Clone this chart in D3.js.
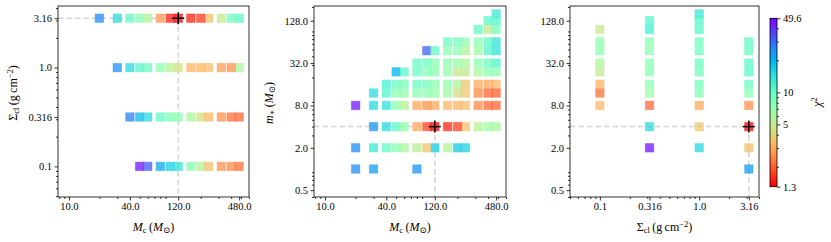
<!DOCTYPE html>
<html>
<head>
<meta charset="utf-8">
<script src="https://cdn.jsdelivr.net/npm/d3@7"></script>
<style>
  body { margin: 0; background: #fff; }
  svg text { font-family: "Liberation Serif", "DejaVu Serif", serif; fill: #000; }
</style>
</head>
<body>
<div id="chart"></div>
<script>
// tick labels
var mcTicks = [10, 40, 120, 480];
var sigmaTicks = [0.1, 0.316, 1.0, 3.16];
var mstarTicks = [0.5, 2, 8, 32, 128];
var chiTicks = [1.3, 5, 10, 49.6];
var mcTickText = ["10.0", "40.0", "120.0", "480.0"];
var sigmaTickText = ["0.1", "0.316", "1.0", "3.16"];
var mstarTickText = ["0.5", "2.0", "8.0", "32.0", "128.0"];
var chiTickText = ["1.3", "5", "10", "49.6"];

// best fit
var bestMc = 120, bestSigma = 3.16, bestMstar = 4;

// [Mc, Sigma_cl, chi2]
var mcSigmaChi = [
  [20,3.16,25],[30,3.16,15],[40,3.16,10],[50,3.16,7.5],[60,3.16,5.5],[80,3.16,2.7],[100,3.16,1.5],
  [120,3.16,1.3],[160,3.16,1.5],[200,3.16,1.7],[240,3.16,3.5],[320,3.16,5],[400,3.16,9],[480,3.16,10.5],
  [30,1,25],[40,1,15],[50,1,11],[60,1,9.5],[80,1,7.5],[100,1,5.5],[120,1,4.5],
  [160,1,3.2],[200,1,3.2],[240,1,3.5],[320,1,2.8],[400,1,2.6],[480,1,6],
  [40,0.316,27],[50,0.316,19],[60,0.316,15],[80,0.316,10],[100,0.316,8],[120,0.316,7.5],
  [160,0.316,6],[200,0.316,4.5],[240,0.316,3.3],[320,0.316,2.6],[400,0.316,2.2],[480,0.316,2.1],
  [50,0.1,45],[60,0.1,33],[80,0.1,22],[100,0.1,17],[120,0.1,14],
  [160,0.1,8],[200,0.1,5.5],[240,0.1,3.5],[320,0.1,2.6],[400,0.1,2.5],[480,0.1,2.2]
];

// [Mc, m_star, chi2]
var mcMstarChi = [
  [20,1,25],[30,1,23],[80,1,24],
  [20,2,25],[30,2,13],[40,2,10],[50,2,7.5],[60,2,6],[80,2,5.5],[100,2,3.6],[120,2,17],[160,2,5.5],[200,2,17],[240,2,16],
  [30,4,24],[40,4,15],[50,4,10],[60,4,7],[80,4,3],[100,4,1.8],[120,4,1.3],[160,4,1.5],[200,4,1.7],[240,4,3.5],[320,4,5.5],[400,4,6.5],[480,4,6],
  [20,8,45],[30,8,15],[40,8,14],[50,8,7.5],[60,8,5.5],[80,8,3],[100,8,2.6],[120,8,3],[160,8,3.2],[200,8,3.2],[240,8,3.4],[320,8,2.5],[400,8,2.1],[480,8,2.1],
  [30,12,15],[40,12,11],[50,12,7.5],[60,12,7],[80,12,7.5],[100,12,7.5],[120,12,7],[160,12,6.5],[200,12,4.5],[240,12,3.7],[320,12,2.5],[400,12,2.1],[480,12,2.0],
  [40,16,12],[50,16,9.5],[60,16,8.5],[80,16,9.5],[100,16,9],[120,16,7.5],[160,16,7],[200,16,6],[240,16,3.6],[320,16,3],[400,16,3],[480,16,3.3],
  [50,24,20],[60,24,10.5],[80,24,9.5],[100,24,8],[120,24,7.5],[160,24,7],[200,24,5],[240,24,5],[320,24,6],[400,24,7.5],[480,24,7.5],
  [80,32,9.5],[100,32,9.5],[120,32,7.5],[160,32,7.5],[200,32,7],[240,32,6],[320,32,7.5],[400,32,9.5],[480,32,11.5],
  [100,48,32],[120,48,10],[160,48,7.5],[200,48,7.5],[240,48,5.5],[320,48,6.5],[400,48,11],[480,48,14],
  [160,64,9.5],[200,64,9],[240,64,7.5],[320,64,7.5],[400,64,10],[480,64,14],
  [320,96,10],[400,96,5],[480,96,9],
  [400,128,10.5],[480,128,11],
  [480,160,13]
];

// [Sigma_cl, m_star, chi2]
var sigmaMstarChi = [
  [0.1,96,5],[0.1,64,7.5],[0.1,48,7.5],[0.1,32,6],[0.1,24,5],[0.1,16,3.2],[0.1,12,2.2],[0.1,8,3.3],
  [0.316,128,11],[0.316,96,12.5],[0.316,64,7.5],[0.316,48,7.5],[0.316,32,7.5],[0.316,24,7.5],[0.316,16,7.5],
  [0.316,12,6.5],[0.316,8,2.1],[0.316,4,15],[0.316,2,45],
  [1,160,13.5],[1,128,11],[1,96,10.5],[1,64,9],[1,48,9],[1,32,9.5],[1,24,9],[1,16,9],[1,12,8],[1,8,3],[1,4,3.7],[1,2,15],
  [3.16,64,10],[3.16,48,9.5],[3.16,32,10.5],[3.16,24,10.5],[3.16,16,9.5],[3.16,12,7.5],[3.16,8,2.6],[3.16,4,1.3],[3.16,2,3.5],[3.16,1,23]
];

var svgWidth = 831, svgHeight = 242;
var plotTop = 6, plotBottom = 197;

var svg = d3.select("#chart").append("svg")
  .attr("width", svgWidth)
  .attr("height", svgHeight);

// matplotlib rainbow_r on a log norm
var norm = d3.scaleLog().domain([1.3, 49.6]).range([0, 1]).clamp(true);
function rainbowR(v) {
  var x = 1 - v;
  var r = Math.min(1, Math.abs(2 * x - 0.5));
  var g = Math.sin(Math.PI * x);
  var b = Math.cos(Math.PI * x / 2);
  return d3.rgb(r * 255, g * 255, b * 255).toString();
}
function chiColor(c) { return rainbowR(norm(c)); }

function minorTicks(domain, majors) {
  var out = [];
  var lo = Math.floor(Math.log10(domain[0])), hi = Math.ceil(Math.log10(domain[1]));
  for (var e = lo; e <= hi; e++) {
    for (var k = 2; k <= 9; k++) {
      var v = k * Math.pow(10, e);
      if (v < domain[0] || v > domain[1]) continue;
      if (majors.some(function(m) { return Math.abs(m - v) / v < 0.01; })) continue;
      out.push(v);
    }
  }
  return out;
}

function styleAxis(g) {
  g.select(".domain").remove();
  g.selectAll("line").attr("stroke", "#000").attr("stroke-width", 0.8);
  g.selectAll("text").attr("font-family", "Liberation Serif, serif").attr("font-size", 10.5);
}

function drawPanel(opt) {
  var x = d3.scaleLog().domain(opt.xDomain).range([opt.left, opt.right]);
  var y = d3.scaleLog().domain(opt.yDomain).range([plotBottom, plotTop]);
  var g = svg.append("g");

  // x axis
  var xa = g.append("g").attr("transform", `translate(0, ${plotBottom})`)
    .call(d3.axisBottom(x).tickValues(opt.xTicks).tickSize(3.5).tickPadding(2.5)
      .tickFormat(function(d, i) { return opt.xText[i]; }));
  styleAxis(xa);
  var xm = g.append("g").attr("transform", `translate(0, ${plotBottom})`)
    .call(d3.axisBottom(x).tickValues(minorTicks(opt.xDomain, opt.xTicks)).tickSize(2).tickFormat(""));
  styleAxis(xm);

  // y axis
  var ya = g.append("g").attr("transform", `translate(${opt.left}, 0)`)
    .call(d3.axisLeft(y).tickValues(opt.yTicks).tickSize(3.5).tickPadding(2.5)
      .tickFormat(function(d, i) { return opt.yText[i]; }));
  styleAxis(ya);
  var ym = g.append("g").attr("transform", `translate(${opt.left}, 0)`)
    .call(d3.axisLeft(y).tickValues(minorTicks(opt.yDomain, opt.yTicks)).tickSize(2).tickFormat(""));
  styleAxis(ym);

  // best fit guide lines
  var bx = x(opt.best[0]), by = y(opt.best[1]);
  g.append("line").attr("x1", opt.left).attr("x2", bx).attr("y1", by).attr("y2", by)
    .attr("stroke", "#d4d4d4").attr("stroke-width", 1.5).attr("stroke-dasharray", "5.5,3");
  g.append("line").attr("x1", bx).attr("x2", bx).attr("y1", by).attr("y2", plotBottom)
    .attr("stroke", "#d4d4d4").attr("stroke-width", 1.5).attr("stroke-dasharray", "5.5,3");

  // markers
  var s = 8.5;
  g.append("g").selectAll("rect")
    .data(opt.data.slice().sort(function(a, b) { return b[2] - a[2]; }))
    .enter()
    .append("rect")
    .attr("x", d => x(d[0]) - s / 2)
    .attr("y", d => y(d[1]) - s / 2)
    .attr("width", s)
    .attr("height", s)
    .attr("fill", d => chiColor(d[2]))
    .attr("fill-opacity", 0.75)
    .attr("stroke", d => chiColor(d[2]))
    .attr("stroke-opacity", 0.35)
    .attr("stroke-width", 1);

  // best fit cross
  g.append("line").attr("x1", bx - 6).attr("x2", bx + 6).attr("y1", by).attr("y2", by)
    .attr("stroke", "#000").attr("stroke-width", 1.5);
  g.append("line").attr("x1", bx).attr("x2", bx).attr("y1", by - 6).attr("y2", by + 6)
    .attr("stroke", "#000").attr("stroke-width", 1.5);

  // frame
  g.append("rect").attr("x", opt.left).attr("y", plotTop)
    .attr("width", opt.right - opt.left).attr("height", plotBottom - plotTop)
    .attr("fill", "none").attr("stroke", "#000").attr("stroke-width", 0.8);

  return g;
}

function mathLabel(sel, parts) {
  // parts: [text, style]
  parts.forEach(function(p) {
    var t = sel.append("tspan").text(p[0]);
    if (p[1] === "i") t.attr("font-style", "italic");
    if (p[1] === "sub") t.attr("baseline-shift", "-25%").attr("font-size", 8.5);
    if (p[1] === "sup") t.attr("baseline-shift", "40%").attr("font-size", 8.5);
  });
}

drawPanel({
  left: 58, right: 249, xDomain: [7.8, 600], yDomain: [0.049, 4.2],
  xTicks: mcTicks, xText: mcTickText, yTicks: sigmaTicks, yText: sigmaTickText,
  data: mcSigmaChi, best: [bestMc, bestSigma]
});
drawPanel({
  left: 314, right: 506, xDomain: [7.8, 600], yDomain: [0.4, 207],
  xTicks: mcTicks, xText: mcTickText, yTicks: mstarTicks, yText: mstarTickText,
  data: mcMstarChi, best: [bestMc, bestMstar]
});
drawPanel({
  left: 570, right: 759, xDomain: [0.05, 4.0], yDomain: [0.4, 207],
  xTicks: sigmaTicks, xText: sigmaTickText, yTicks: mstarTicks, yText: mstarTickText,
  data: sigmaMstarChi, best: [bestSigma, bestMstar]
});

// axis labels
var mcLabel = [["M", "i"], ["c", "sub"], ["\u2009(", ""], ["M", "i"], ["\u2299", "sub"], [")", ""]];
var sigLabel = [["\u03A3", ""], ["cl", "sub"], ["\u2009(g\u2009cm", ""], ["\u22122", "sup"], [")", ""]];
var msLabel = [["m", "i"], ["\u2217", "sub"], ["\u2009(", ""], ["M", "i"], ["\u2299", "sub"], [")", ""]];

mathLabel(svg.append("text").attr("x", 153.5).attr("y", 231).attr("text-anchor", "middle").attr("font-size", 12), mcLabel);
mathLabel(svg.append("text").attr("x", 410).attr("y", 231).attr("text-anchor", "middle").attr("font-size", 12), mcLabel);
mathLabel(svg.append("text").attr("x", 664.5).attr("y", 231).attr("text-anchor", "middle").attr("font-size", 12), sigLabel);
mathLabel(svg.append("text").attr("transform", "translate(17, 93) rotate(-90)").attr("text-anchor", "middle").attr("font-size", 12), sigLabel);
mathLabel(svg.append("text").attr("transform", "translate(273, 103) rotate(-90)").attr("text-anchor", "middle").attr("font-size", 12), msLabel);

// colorbar
var cbLeft = 770, cbRight = 777, cbTop = 18.3, cbBottom = 186.7;
var cy = d3.scaleLog().domain([1.3, 49.6]).range([cbBottom, cbTop]);
var nSteps = 170;
var stepVals = d3.range(nSteps).map(function(i) {
  return Math.exp(Math.log(1.3) + (Math.log(49.6) - Math.log(1.3)) * (i + 0.5) / nSteps);
});
var cb = svg.append("g");
cb.selectAll("rect.step").data(stepVals).enter().append("rect")
  .attr("class", "step")
  .attr("x", cbLeft)
  .attr("width", cbRight - cbLeft)
  .attr("y", d => cy(d) - (cbBottom - cbTop) / nSteps / 2 - 0.3)
  .attr("height", (cbBottom - cbTop) / nSteps + 0.6)
  .attr("fill", d => chiColor(d));
cb.append("rect").attr("x", cbLeft).attr("y", cbTop).attr("width", cbRight - cbLeft).attr("height", cbBottom - cbTop)
  .attr("fill", "none").attr("stroke", "#000").attr("stroke-width", 0.8);
var cba = cb.append("g").attr("transform", `translate(${cbRight}, 0)`)
  .call(d3.axisRight(cy).tickValues(chiTicks).tickSize(3.5).tickPadding(2.5)
    .tickFormat(function(d, i) { return chiTickText[i]; }));
styleAxis(cba);
var cbm = cb.append("g").attr("transform", `translate(${cbRight}, 0)`)
  .call(d3.axisRight(cy).tickValues(minorTicks([1.3, 49.6], chiTicks)).tickSize(2).tickFormat(""));
styleAxis(cbm);
mathLabel(svg.append("text").attr("transform", "translate(821, 102) rotate(-90)").attr("text-anchor", "middle").attr("font-size", 12),
  [["\u03C7", "i"], ["2", "sup"]]);
</script>
</body>
</html>
